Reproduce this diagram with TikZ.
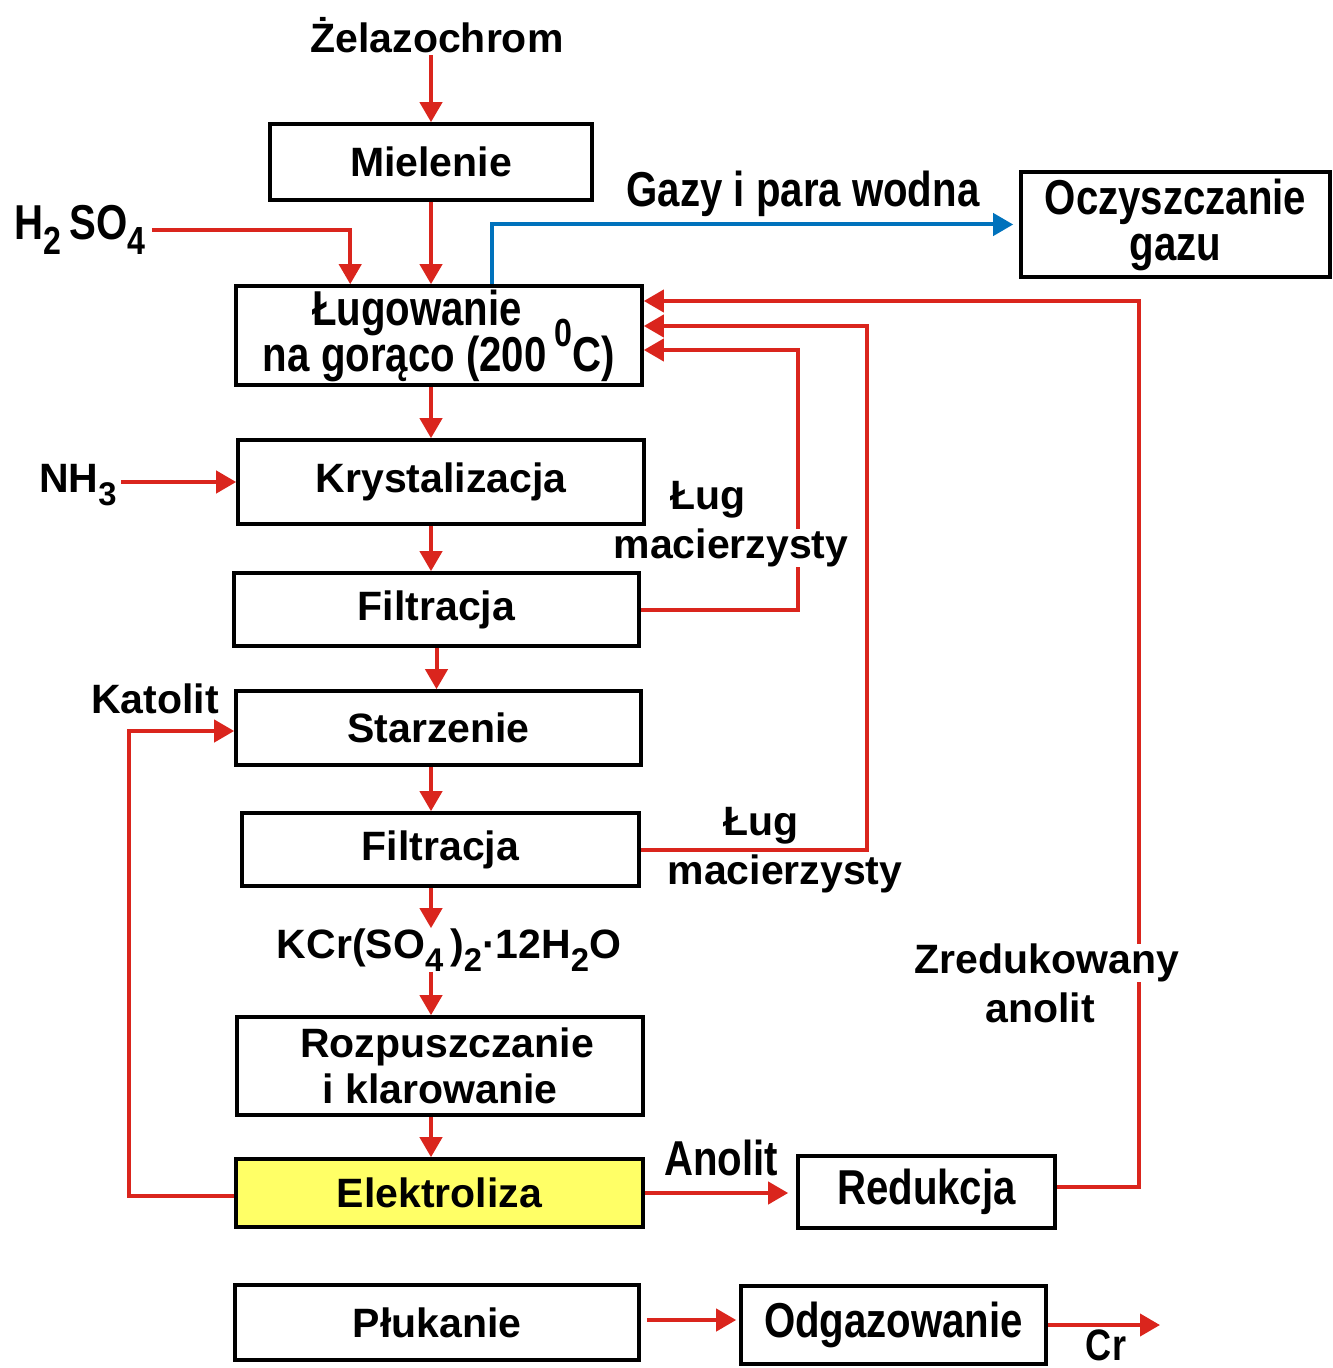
\documentclass[tikz,border=0pt]{standalone}
\usepackage{fontspec}
\setmainfont{Liberation Sans}
\newfontfamily\narrowf[FakeStretch=0.82]{Liberation Sans}
\usetikzlibrary{arrows.meta,calc}
\definecolor{myred}{RGB}{218,37,29}
\definecolor{myblue}{RGB}{0,114,188}
\definecolor{myyellow}{RGB}{255,255,102}
\newcommand\mysub[1]{\raisebox{-0.32em}{\scalebox{0.8}{#1}}}
\newcommand\mysup[1]{\smash{\raisebox{0.5em}{\scalebox{0.8}{#1}}}}
\tikzset{
  wide/.style={font=\fontsize{20.5}{23}\selectfont\bfseries},
  narrow/.style={font=\narrowf\fontsize{24.5}{23}\selectfont\bfseries},
  box/.style={draw, line width=1.8pt, inner sep=0pt, align=center},
  lbl/.style={inner sep=1pt, align=center},
  rarr/.style={draw=myred, line width=2pt, -{Triangle[length=10pt,width=11pt]}},
  barr/.style={draw=myblue, line width=2pt, -{Triangle[length=10pt,width=11pt]}},
}
\begin{document}
\begin{tikzpicture}[x=0.5pt,y=-0.5pt]
\useasboundingbox (0,0) rectangle (1332,1368);

% boxes
\node[box,wide,minimum width=161pt,minimum height=38pt] (miel) at (431,162) {Mielenie};
\node[box,narrow,minimum width=203pt,minimum height=49.5pt] (lug) at (439,335.5) {Ługowanie\hspace*{22pt}\\na gorąco (200\,\mysup{0}C)};
\node[box,narrow,minimum width=154.5pt,minimum height=52.5pt] (ocz) at (1175.5,224.5) {Oczyszczanie\\gazu};
\node[box,wide,minimum width=203pt,minimum height=42pt] (kry) at (441,482) {Krystalizacja};
\node[box,wide,minimum width=202.5pt,minimum height=36.5pt] (f1) at (436.5,609.5) {Filtracja};
\node[box,wide,minimum width=202.5pt,minimum height=37pt] (star) at (438.5,728) {Starzenie};
\node[box,wide,minimum width=198.5pt,minimum height=36.5pt] (f2) at (440.5,849.5) {Filtracja};
\node[box,wide,minimum width=203pt,minimum height=49pt] (rozp) at (440,1066) {\hspace*{7pt}Rozpuszczanie\\i klarowanie};
\node[box,wide,fill=myyellow,minimum width=203.5pt,minimum height=34pt] (elek) at (439.5,1193) {Elektroliza};
\node[box,narrow,minimum width=128.5pt,minimum height=36pt] (red) at (926.5,1192) {Redukcja};
\node[box,wide,minimum width=202pt,minimum height=37.5pt] (pluk) at (437,1322.5) {Płukanie};
\node[box,narrow,minimum width=152.5pt,minimum height=39pt] (odg) at (893.5,1325) {Odgazowanie};

% free labels
\node[lbl,wide] (zel) at (437,35) {Żelazochrom};
\node[lbl,narrow,inner sep=3pt] (h2so4) at (80,230) {H\mysub{2}\,SO\mysub{4}};
\node[lbl,narrow] (gazy) at (803,194) {Gazy i para wodna};
\node[lbl,wide,inner sep=2pt] (nh3) at (78,485) {NH\mysub{3}};
\node[lbl,wide] (katolit) at (155,699) {Katolit};
\node[lbl,wide,inner sep=0pt] (kcr) at (449,950) {KCr(SO\mysub{4}\,)\mysub{2}·12H\mysub{2}O};
\node[lbl,narrow] (anolit) at (721,1158) {Anolit};
\node[lbl,inner sep=0pt,font=\narrowf\fontsize{22}{22}\selectfont\bfseries] (cr) at (1106,1345) {Cr};
\coordinate (crend) at (1160,1325);

% main vertical flow
\draw[rarr] (miel.north |- zel.south) -- (miel.north);
\draw[rarr] (miel.south) -- (miel.south |- lug.north);
\draw[rarr] (h2so4.east) -| ([xshift=58pt]lug.north west);
\draw[barr, shorten >=3pt] ([xshift=129pt]lug.north west) |- (ocz.west);
\draw[rarr] (lug.south -| miel.south) -- (miel.south |- kry.north);
\draw[rarr] (nh3.east |- kry.west) -- (kry.west);
\draw[rarr] (kry.south -| miel.south) -- (miel.south |- f1.north);
\draw[rarr] (f1.south) -- (f1.south |- star.north);
\draw[rarr] (star.south -| miel.south) -- (miel.south |- f2.north);
\draw[rarr] (f2.south -| miel.south) -- (miel.south |- kcr.north);
\draw[rarr] (miel.south |- kcr.south) -- (miel.south |- rozp.north);
\draw[rarr] (rozp.south -| miel.south) -- (miel.south |- elek.north);

% recycle loops
\draw[rarr] (f1.east) -- ++(157,0) |- ([yshift=-7.25pt]lug.east);
\draw[rarr] (f2.east) -- ++(226,0) |- ([yshift=4.75pt]lug.east);
\draw[rarr] ([yshift=2.5pt]red.east) -- ++(82,0) |- ([yshift=17.25pt]lug.east);
\draw[rarr] ([yshift=-1.5pt]elek.west) -- ++(-105,0) |- ([yshift=-1.5pt]star.west);
\draw[rarr, shorten >=4pt] (elek.east) -- (elek.east -| red.west);
\draw[rarr, shorten <=3pt, shorten >=1.5pt] ([yshift=1.25pt]pluk.east) -- ([yshift=1.25pt]pluk.east -| odg.west);
\draw[rarr] (odg.east) -- (crend);

% labels over loops
\node[lbl,wide] (lug1a) at (708,500) {Ług};
\node[lbl,wide,fill=white,inner sep=0pt] (lug1b) at (731,548) {macierzysty};
\node[lbl,wide] (lug2a) at (761,826) {Ług};
\node[lbl,wide] (lug2b) at (785,874) {macierzysty};
\node[lbl,wide,fill=white,inner sep=0pt] (zred) at (1047,963) {Zredukowany};
\node[lbl,wide] (anol2) at (1040,1008) {anolit};
\end{tikzpicture}
\end{document}
